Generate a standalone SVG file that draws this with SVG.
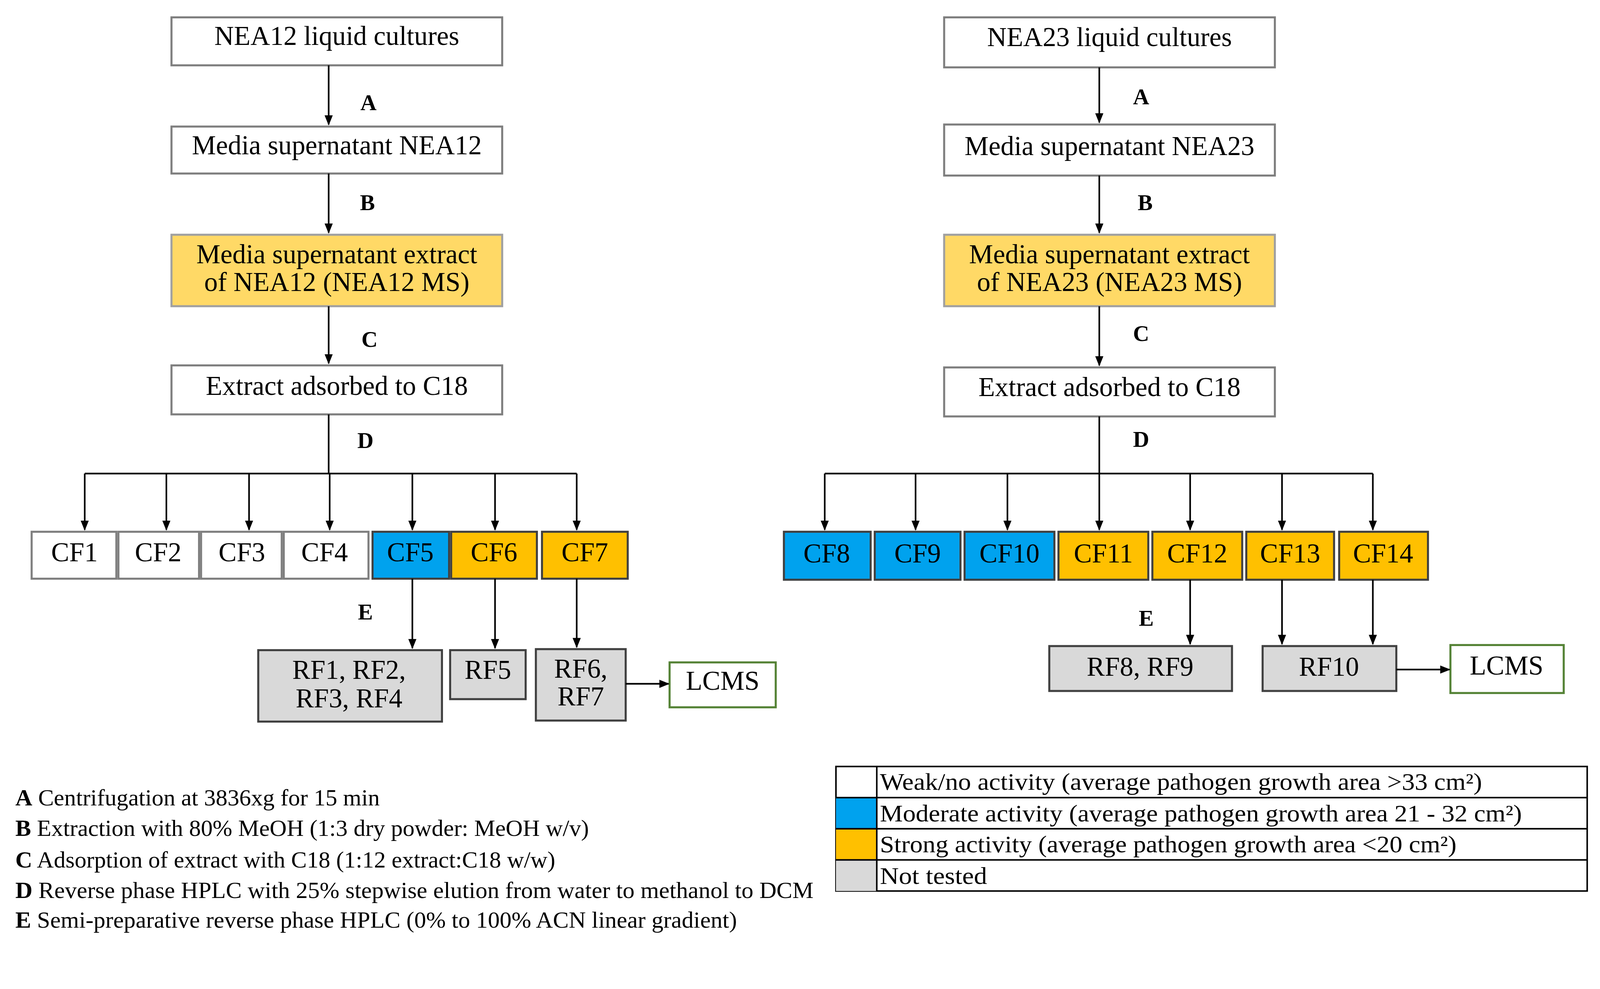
<svg xmlns="http://www.w3.org/2000/svg" width="4292" height="2532" viewBox="0 0 4292 2532">
<style>
text{font-family:"Liberation Serif",serif;fill:#000}
.t{font-size:26.5px;text-anchor:middle}
.lab{font-size:22px;font-weight:bold;text-anchor:middle}
.fn{font-size:22.5px}
.leg{font-size:23.5px}
.w{fill:#fff;stroke:#7f7f7f;stroke-width:2}
.y{fill:#FFD966;stroke:#a0a0a0;stroke-width:2}
.b{fill:#00A2EE;stroke:#404040;stroke-width:2}
.o{fill:#FFC000;stroke:#404040;stroke-width:2}
.g{fill:#D9D9D9;stroke:#404040;stroke-width:2}
.l{fill:#fff;stroke:#548235;stroke-width:2}
.c{stroke:#000;stroke-width:1.6;fill:none}
</style>
<defs><marker id="ar" markerWidth="10" markerHeight="10" refX="9" refY="5" orient="auto" markerUnits="userSpaceOnUse"><path d="M0,1 L10,5 L0,9 z" fill="#000"/></marker></defs>
<rect width="4292" height="2532" fill="#fff"/>
<g transform="scale(2.613)">
<g id="n1"><rect class="w" x="168" y="17" width="324" height="47"/><text class="t" x="330" y="44">NEA12 liquid cultures</text></g>
<g id="n2"><rect class="w" x="168" y="124" width="324" height="46"/><text class="t" x="330" y="151">Media supernatant NEA12</text></g>
<g id="n3"><rect class="y" x="168" y="230" width="324" height="70"/><text class="t" x="330" y="258">Media supernatant extract</text><text class="t" x="330" y="285">of NEA12 (NEA12 MS)</text></g>
<g id="n4"><rect class="w" x="168" y="358" width="324" height="48"/><text class="t" x="330" y="387">Extract adsorbed to C18</text></g>
<g id="cf1"><rect class="w" x="31" y="521" width="83" height="46"/><text class="t" x="73" y="550">CF1</text></g>
<g id="cf2"><rect class="w" x="116" y="521" width="79" height="46"/><text class="t" x="155" y="550">CF2</text></g>
<g id="cf3"><rect class="w" x="197" y="521" width="79" height="46"/><text class="t" x="237" y="550">CF3</text></g>
<g id="cf4"><rect class="w" x="278" y="521" width="83" height="46"/><text class="t" x="318" y="550">CF4</text></g>
<g id="cf5"><rect class="b" x="365" y="521" width="75" height="46"/><text class="t" x="402" y="550">CF5</text></g>
<g id="cf6"><rect class="o" x="442" y="521" width="84" height="46"/><text class="t" x="484" y="550">CF6</text></g>
<g id="cf7"><rect class="o" x="531" y="521" width="84" height="46"/><text class="t" x="573" y="550">CF7</text></g>
<g id="rf14"><rect class="g" x="253" y="637" width="180" height="70"/><text class="t" x="342" y="665">RF1, RF2,</text><text class="t" x="342" y="693">RF3, RF4</text></g>
<g id="rf5"><rect class="g" x="441" y="637" width="74" height="48"/><text class="t" x="478" y="665">RF5</text></g>
<g id="rf67"><rect class="g" x="525" y="636" width="88" height="70"/><text class="t" x="569" y="664">RF6,</text><text class="t" x="569" y="691">RF7</text></g>
<g id="lcms1"><rect class="l" x="656" y="649" width="104" height="44"/><text class="t" x="708" y="676">LCMS</text></g>

<g id="m1"><rect class="w" x="925" y="17" width="324" height="49"/><text class="t" x="1087" y="45">NEA23 liquid cultures</text></g>
<g id="m2"><rect class="w" x="925" y="122" width="324" height="50"/><text class="t" x="1087" y="152">Media supernatant NEA23</text></g>
<g id="m3"><rect class="y" x="925" y="230" width="324" height="70"/><text class="t" x="1087" y="258">Media supernatant extract</text><text class="t" x="1087" y="285">of NEA23 (NEA23 MS)</text></g>
<g id="m4"><rect class="w" x="925" y="360" width="324" height="48"/><text class="t" x="1087" y="388">Extract adsorbed to C18</text></g>
<g id="cf8"><rect class="b" x="768" y="521" width="85" height="47"/><text class="t" x="810" y="551">CF8</text></g>
<g id="cf9"><rect class="b" x="857" y="521" width="84" height="47"/><text class="t" x="899" y="551">CF9</text></g>
<g id="cf10"><rect class="b" x="945" y="521" width="88" height="47"/><text class="t" x="989" y="551">CF10</text></g>
<g id="cf11"><rect class="o" x="1037" y="521" width="88" height="47"/><text class="t" x="1081" y="551">CF11</text></g>
<g id="cf12"><rect class="o" x="1129" y="521" width="88" height="47"/><text class="t" x="1173" y="551">CF12</text></g>
<g id="cf13"><rect class="o" x="1221" y="521" width="86" height="47"/><text class="t" x="1264" y="551">CF13</text></g>
<g id="cf14"><rect class="o" x="1312" y="521" width="87" height="47"/><text class="t" x="1355" y="551">CF14</text></g>
<g id="rf89"><rect class="g" x="1028" y="633" width="179" height="44"/><text class="t" x="1117" y="662">RF8, RF9</text></g>
<g id="rf10"><rect class="g" x="1237" y="633" width="131" height="44"/><text class="t" x="1302" y="662">RF10</text></g>
<g id="lcms2"><rect class="l" x="1421" y="632" width="111" height="47"/><text class="t" x="1476" y="661">LCMS</text></g>

<g id="connectors">
<line class="c" x1="322" y1="64" x2="322" y2="122" marker-end="url(#ar)"/>
<line class="c" x1="322" y1="170" x2="322" y2="228" marker-end="url(#ar)"/>
<line class="c" x1="322" y1="300" x2="322" y2="356" marker-end="url(#ar)"/>
<line class="c" x1="322" y1="406" x2="322" y2="464"/>
<line class="c" x1="83" y1="464" x2="565" y2="464"/>
<line class="c" x1="83" y1="464" x2="83" y2="519" marker-end="url(#ar)"/>
<line class="c" x1="163" y1="464" x2="163" y2="519" marker-end="url(#ar)"/>
<line class="c" x1="244" y1="464" x2="244" y2="519" marker-end="url(#ar)"/>
<line class="c" x1="323" y1="464" x2="323" y2="519" marker-end="url(#ar)"/>
<line class="c" x1="404" y1="464" x2="404" y2="519" marker-end="url(#ar)"/>
<line class="c" x1="485" y1="464" x2="485" y2="519" marker-end="url(#ar)"/>
<line class="c" x1="565" y1="464" x2="565" y2="519" marker-end="url(#ar)"/>
<line class="c" x1="404" y1="567" x2="404" y2="635" marker-end="url(#ar)"/>
<line class="c" x1="485" y1="567" x2="485" y2="635" marker-end="url(#ar)"/>
<line class="c" x1="565" y1="567" x2="565" y2="634" marker-end="url(#ar)"/>
<line class="c" x1="613" y1="670" x2="655" y2="670" marker-end="url(#ar)"/>
<line class="c" x1="1077" y1="66" x2="1077" y2="120" marker-end="url(#ar)"/>
<line class="c" x1="1077" y1="172" x2="1077" y2="228" marker-end="url(#ar)"/>
<line class="c" x1="1077" y1="300" x2="1077" y2="358" marker-end="url(#ar)"/>
<line class="c" x1="1077" y1="408" x2="1077" y2="464"/>
<line class="c" x1="808" y1="464" x2="1345" y2="464"/>
<line class="c" x1="808" y1="464" x2="808" y2="519" marker-end="url(#ar)"/>
<line class="c" x1="897" y1="464" x2="897" y2="519" marker-end="url(#ar)"/>
<line class="c" x1="987" y1="464" x2="987" y2="519" marker-end="url(#ar)"/>
<line class="c" x1="1077" y1="464" x2="1077" y2="519" marker-end="url(#ar)"/>
<line class="c" x1="1166" y1="464" x2="1166" y2="519" marker-end="url(#ar)"/>
<line class="c" x1="1256" y1="464" x2="1256" y2="519" marker-end="url(#ar)"/>
<line class="c" x1="1345" y1="464" x2="1345" y2="519" marker-end="url(#ar)"/>
<line class="c" x1="1166" y1="568" x2="1166" y2="631" marker-end="url(#ar)"/>
<line class="c" x1="1256" y1="568" x2="1256" y2="631" marker-end="url(#ar)"/>
<line class="c" x1="1345" y1="568" x2="1345" y2="631" marker-end="url(#ar)"/>
<line class="c" x1="1368" y1="656" x2="1420" y2="656" marker-end="url(#ar)"/>
</g>
<g id="labels">
<text class="lab" x="361" y="108">A</text><text class="lab" x="360" y="206">B</text><text class="lab" x="362" y="340">C</text><text class="lab" x="358" y="439">D</text><text class="lab" x="358" y="607">E</text>
<text class="lab" x="1118" y="102">A</text><text class="lab" x="1122" y="206">B</text><text class="lab" x="1118" y="334">C</text><text class="lab" x="1118" y="438">D</text><text class="lab" x="1123" y="613">E</text>
</g>
<g id="footnotes">
<text class="fn" x="15" y="789" textLength="357" lengthAdjust="spacingAndGlyphs"><tspan font-weight="bold">A</tspan> Centrifugation at 3836xg for 15 min</text>
<text class="fn" x="15" y="819" textLength="562" lengthAdjust="spacingAndGlyphs"><tspan font-weight="bold">B</tspan> Extraction with 80% MeOH (1:3 dry powder: MeOH w/v)</text>
<text class="fn" x="15" y="850" textLength="529" lengthAdjust="spacingAndGlyphs"><tspan font-weight="bold">C</tspan> Adsorption of extract with C18 (1:12 extract:C18 w/w)</text>
<text class="fn" x="15" y="880" textLength="782" lengthAdjust="spacingAndGlyphs"><tspan font-weight="bold">D</tspan> Reverse phase HPLC with 25% stepwise elution from water to methanol to DCM</text>
<text class="fn" x="15" y="909" textLength="707" lengthAdjust="spacingAndGlyphs"><tspan font-weight="bold">E</tspan> Semi-preparative reverse phase HPLC (0% to 100% ACN linear gradient)</text>
</g>
<g id="legend">
<rect x="819" y="751" width="736" height="122" fill="#fff" stroke="#000" stroke-width="1.5"/>
<rect x="819" y="781.5" width="40" height="30.5" fill="#00A2EE"/>
<rect x="819" y="812" width="40" height="30.5" fill="#FFC000"/>
<rect x="819" y="842.5" width="40" height="30.5" fill="#D9D9D9"/>
<line x1="819" y1="781.5" x2="1555" y2="781.5" stroke="#000" stroke-width="1.5"/>
<line x1="819" y1="812" x2="1555" y2="812" stroke="#000" stroke-width="1.5"/>
<line x1="819" y1="842.5" x2="1555" y2="842.5" stroke="#000" stroke-width="1.5"/>
<line x1="859" y1="751" x2="859" y2="873" stroke="#000" stroke-width="1.5"/>
<text class="leg" x="862" y="774" textLength="590" lengthAdjust="spacingAndGlyphs">Weak/no activity (average pathogen growth area &gt;33 cm²)</text>
<text class="leg" x="862" y="805" textLength="629" lengthAdjust="spacingAndGlyphs">Moderate activity (average pathogen growth area 21 - 32 cm²)</text>
<text class="leg" x="862" y="835" textLength="565" lengthAdjust="spacingAndGlyphs">Strong activity (average pathogen growth area &lt;20 cm²)</text>
<text class="leg" x="862" y="866" textLength="105" lengthAdjust="spacingAndGlyphs">Not tested</text>
</g>
</g>
</svg>
